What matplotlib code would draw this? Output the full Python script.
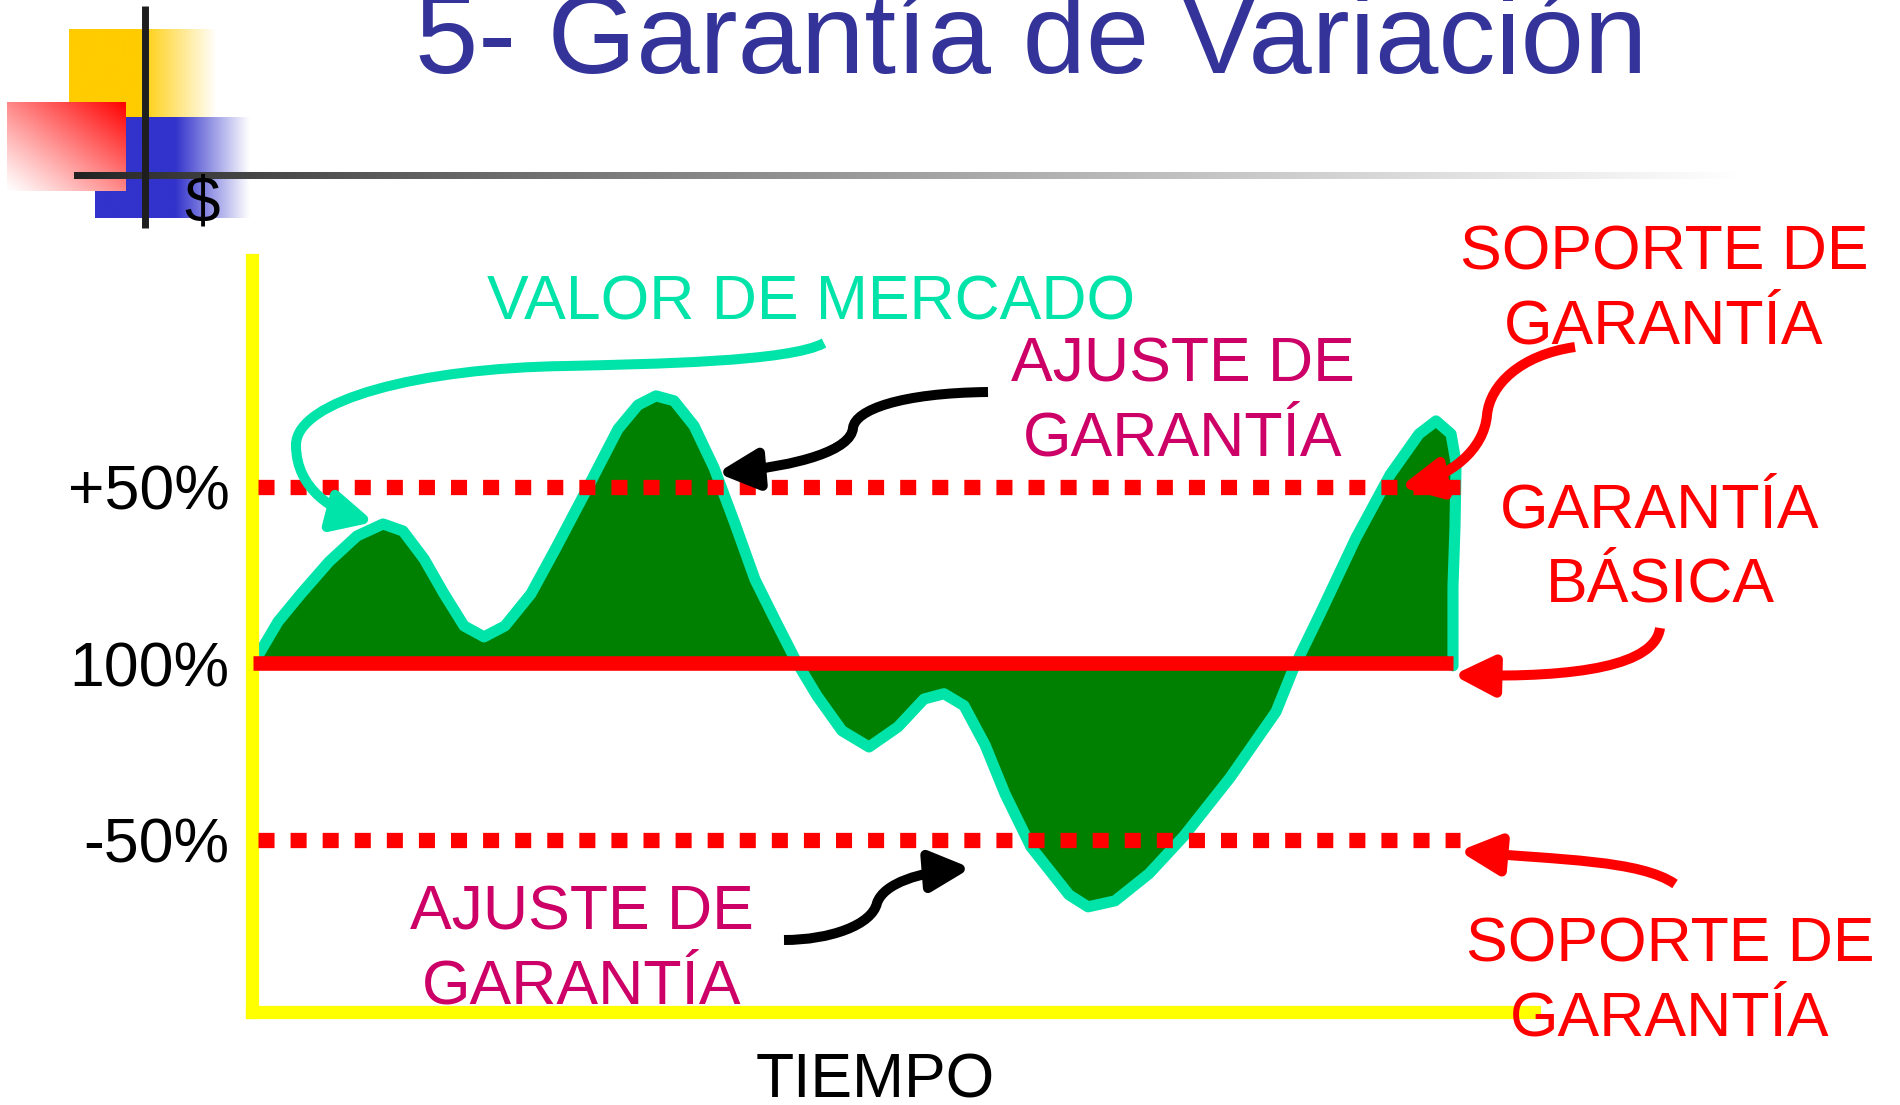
import numpy as np
import matplotlib.pyplot as plt
from matplotlib.path import Path
from matplotlib.patches import FancyArrowPatch
from matplotlib import font_manager as fm

# valor de mercado: tiempo (0-100 del eje) y desviacion en % sobre la garantia basica
tiempo = [0.6, 2.03, 3.82, 6.01, 8.19, 10.22, 11.78, 13.42, 14.98, 16.54,
          18.10, 19.73, 21.76, 23.71, 26.13, 28.55, 30.11, 31.51, 32.92, 34.48,
          36.04, 37.68, 39.24, 40.87, 42.43, 44.07, 46.02, 48.13, 50.39, 52.42,
          53.98, 55.54, 57.18, 58.74, 60.76, 63.73, 65.21, 67.32, 69.97, 72.70,
          76.29, 79.88, 81.20, 83.39, 86.12, 88.77, 91.03, 92.36, 93.53, 93.92,
          93.84, 93.68, 93.68]
valor = [3.0, 11.8, 19.7, 28.8, 36.1, 39.5, 37.5, 29.6, 19.7, 10.6,
         7.5, 10.6, 19.7, 32.7, 49.4, 66.4, 73.2, 75.8, 74.4, 67.3,
         55.4, 39.5, 23.7, 11.8, 0.7, -9.2, -19.1, -23.7, -18.0, -10.1,
         -8.6, -12.0, -23.1, -37.0, -52.0, -65.6, -69.0, -67.3, -59.6, -48.9,
         -32.4, -13.7, -1.8, 14.6, 35.6, 53.4, 65.0, 68.7, 65.0, 56.8,
         39.2, 21.7, -0.7]

niveles = [50, 0, -50]
etiquetas = ['+50%', '100%', '-50%']

titulo = '5- Garantía de Variación'

TEAL = '#00E3A9'
VERDE = '#008000'
ROJO = '#FF0000'
MAGENTA = '#CC0066'
AMARILLO = '#FFFF00'

plt.rcParams['font.family'] = ['Liberation Sans', 'DejaVu Sans']

fig = plt.figure(figsize=(19, 11.05), dpi=100)
fig.patch.set_facecolor('white')

# grafico principal
ax = fig.add_axes([252 / 1900, 93 / 1105, 1282 / 1900, 752 / 1105])
ax.set_zorder(1)
ax.set_xlim(0, 100)
ax.set_ylim(-98.8, 114.3)
ax.patch.set_alpha(0)
for lado in ['top', 'right']:
    ax.spines[lado].set_visible(False)
for lado in ['left', 'bottom']:
    ax.spines[lado].set_color(AMARILLO)
    ax.spines[lado].set_linewidth(9.5)
    ax.spines[lado].set_capstyle('projecting')
ax.set_xticks([])
ax.set_yticks(niveles, etiquetas)
ax.tick_params(axis='y', length=0, pad=16, labelsize=45, labelcolor='black')

ax.fill(tiempo + [tiempo[-1], tiempo[0]], valor + [0, 0], color=VERDE, lw=0, zorder=1)
ax.plot(tiempo, valor, color=TEAL, lw=8, solid_joinstyle='round',
        solid_capstyle='round', zorder=2, clip_on=False)
ax.plot([0.1, 93.7], [niveles[1], niveles[1]], color=ROJO, lw=10.5,
        solid_capstyle='butt', zorder=3)
for nivel in (niveles[0], niveles[2]):
    ax.plot([0.5, 94.2], [nivel, nivel], color=ROJO, lw=11, dashes=(1.05, 1.05),
            dash_capstyle='butt', zorder=3)

# capa superior en pixeles para adornos, flechas y textos
bg = fig.add_axes([0, 0, 1, 1])
bg.set_zorder(2)
bg.patch.set_alpha(0)
bg.axis('off')


def degradado(x0, x1, y0, y1, rgb, solido):
    n = 200
    s = np.linspace(0, 1, n)
    a = np.clip((1 - s) / (1 - solido), 0, 1)
    img = np.ones((1, n, 3))
    for k in range(3):
        img[0, :, k] = 1 - a * (1 - rgb[k])
    bg.imshow(img, extent=(x0, x1, y1, y0), aspect='auto', interpolation='bilinear', zorder=1)


degradado(69, 217, 29, 117, (1.0, 0.8, 0.0), 0.47)
degradado(95, 250, 117, 218, (0.2, 0.2, 0.8), 0.52)

# cuadro rojo con degradado diagonal (opaco, de blanco a rojo)
u, v = np.meshgrid(np.linspace(0, 1, 120), np.linspace(0, 1, 90))
a = ((u + 1 - v) / 2) ** 1.1
roj = np.ones((90, 120, 3))
roj[..., 1] = 1 - a
roj[..., 2] = 1 - a
bg.imshow(roj, extent=(7, 126, 191, 102), aspect='auto', interpolation='bilinear', zorder=2)

# linea horizontal gris degradada
s = np.linspace(0, 1, 400)
gris = 0.13 + 0.87 * s ** 0.8
linea = np.zeros((1, 400, 3))
linea[0, :, 0] = gris
linea[0, :, 1] = gris
linea[0, :, 2] = gris
bg.imshow(linea, extent=(74, 1740, 179, 172), aspect='auto', interpolation='bilinear', zorder=3)
bg.plot([144.5, 144.5], [6, 228], color='#1e1e1e', lw=5, solid_capstyle='butt', zorder=4)
bg.text(202, 222, '$', ha='center', va='baseline', fontsize=46, color='black', zorder=5)

bg.set_xlim(0, 1900)
bg.set_ylim(1105, 0)

nombres = {f.name for f in fm.fontManager.ttflist}
if 'Liberation Sans Narrow' in nombres:
    bg.text(1031, 73, titulo, ha='center', va='baseline', fontsize=100,
            family='Liberation Sans Narrow', color='#333399')
else:
    bg.text(1031, 73, titulo, ha='center', va='baseline', fontsize=82, color='#333399')


# flechas curvas
def flecha(pts, color, lw=7.2, hl=24, hw=12):
    codes = [Path.MOVETO] + [Path.CURVE4] * (len(pts) - 1)
    p = FancyArrowPatch(path=Path(pts, codes),
                        arrowstyle=f'-|>,head_length={hl},head_width={hw}',
                        color=color, lw=lw, capstyle='butt', zorder=6)
    bg.add_patch(p)


flecha([(988, 392), (900, 393), (855, 410), (853, 428),
        (851, 450), (800, 466), (717, 473)], 'black')
flecha([(784, 940), (830, 940), (872, 925), (877, 903),
        (884, 883), (920, 872), (971, 868)], 'black')
flecha([(824, 343), (790, 362), (650, 364), (566, 366),
        (420, 368), (296, 400), (296, 445),
        (296, 490), (335, 512), (374, 522)], TEAL)
flecha([(1575, 347), (1520, 355), (1490, 385), (1487, 415),
        (1484, 450), (1450, 477), (1400, 487)], ROJO)
flecha([(1660, 628), (1655, 665), (1580, 678), (1453, 675)], ROJO)
flecha([(1675, 884), (1640, 860), (1560, 860), (1459, 851)], ROJO)


def bloque(x, y, lineas, color, dy=74):
    for i, t in enumerate(lineas):
        bg.text(x, y + i * dy, t, ha='center', va='baseline', fontsize=45, color=color, zorder=7)


bloque(811, 319, ['VALOR DE MERCADO'], TEAL)
bloque(1183, 382, ['AJUSTE DE', 'GARANTÍA'], MAGENTA)
bloque(582, 929, ['AJUSTE DE', 'GARANTÍA'], MAGENTA)
bloque(1664, 269, ['SOPORTE DE', 'GARANTÍA'], ROJO)
bloque(1660, 528, ['GARANTÍA', 'BÁSICA'], ROJO)
bloque(1670, 961, ['SOPORTE DE', 'GARANTÍA'], ROJO)
bloque(875, 1098, ['TIEMPO'], 'black')

fig.savefig('out.png', dpi=100, facecolor='white')
